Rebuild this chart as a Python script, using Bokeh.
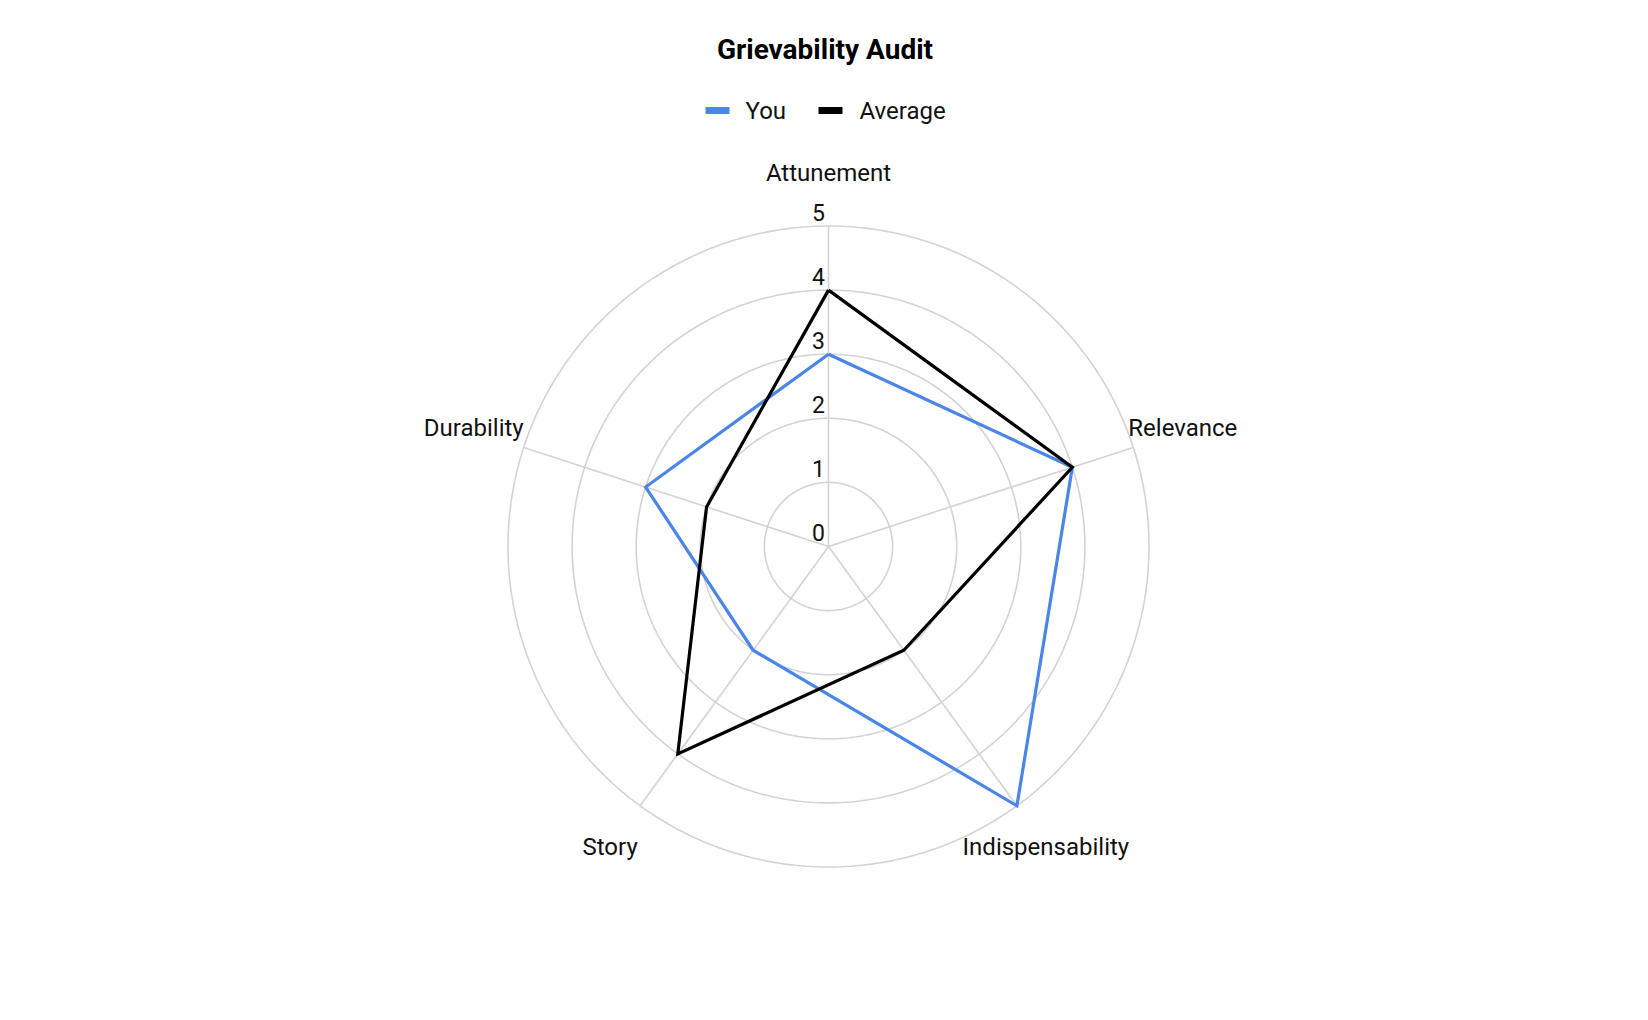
import math
from bokeh.plotting import figure
from bokeh.models import Range1d
from bokeh.core.properties import value
from bokeh.embed import file_html
from bokeh.resources import INLINE

# ---- data ----
categories = ["Attunement", "Relevance", "Indispensability", "Story", "Durability"]
you = [3, 4, 5, 2, 3]
average = [4, 4, 2, 4, 2]
ticks = [0, 1, 2, 3, 4, 5]
series_names = ["You", "Average"]
series_colors = ["#4a86e8", "#000000"]
title_text = "Grievability Audit"

# ---- layout (pixels) ----
W, H = 1648, 1020
cx, cy = 828.0, 546.0
U = 64.1  # pixels per score unit
RMAX = 5

def P(x, y):
    return ((x - cx) / U, (cy - y) / U)

n = len(categories)
angles = [math.pi / 2 - 2 * math.pi * i / n for i in range(n)]

def polar(r, a):
    return r * math.cos(a), r * math.sin(a)

p = figure(width=W, height=H, output_backend="svg", toolbar_location=None,
           x_range=Range1d(-cx / U, (W - cx) / U),
           y_range=Range1d(-(H - cy) / U, cy / U),
           min_border=0, outline_line_color=None)
p.axis.visible = False
p.grid.visible = False
p.background_fill_color = "white"
p.border_fill_color = "white"

grid_color = "#d3d3d3"
# rings
ring_xs, ring_ys = [], []
for r in ticks[1:]:
    pts = [polar(r, 2 * math.pi * k / 360) for k in range(361)]
    ring_xs.append([q[0] for q in pts])
    ring_ys.append([q[1] for q in pts])
p.multi_line(ring_xs, ring_ys, line_color=grid_color, line_width=1.6)

# spokes
sp_xs, sp_ys = [], []
for a in angles:
    ex, ey = polar(RMAX, a)
    sp_xs.append([0, ex])
    sp_ys.append([0, ey])
p.multi_line(sp_xs, sp_ys, line_color=grid_color, line_width=1.6)

# tick labels
p.text(x=[0] * len(ticks), y=ticks, text=[str(t) for t in ticks],
       x_offset=-10, y_offset=-14, text_align="center", text_baseline="middle",
       text_font=value("Roboto"), text_font_size="23px", text_color="#111111")

# series
for vals, col in zip([you, average], series_colors):
    pts = [polar(v, a) for v, a in zip(vals, angles)]
    xs = [q[0] for q in pts] + [pts[0][0]]
    ys = [q[1] for q in pts] + [pts[0][1]]
    p.line(xs, ys, line_color=col, line_width=3.2, line_join="miter")

# category labels
offs = [(0, -53, "center"), (-5, -19, "left"), (29, 41, "center"),
        (-30, 41, "center"), (0, -19, "right")]
for cat, a, (ox, oy, al) in zip(categories, angles, offs):
    ex, ey = polar(RMAX, a)
    p.text(x=[ex], y=[ey], text=[cat], x_offset=ox, y_offset=oy,
           text_align=al, text_baseline="middle",
           text_font=value("Roboto"), text_font_size="24px", text_color="#111111")

# title
tx, ty = P(824.5, 49)
p.text(x=[tx], y=[ty], text=[title_text], text_align="center", text_baseline="middle",
       text_font=value("Roboto"), text_font_style="bold", text_font_size="28px",
       text_color="#000000")

# legend
leg_sw = [717, 830]
leg_tx = [745, 859]
for name, col, sx, lx in zip(series_names, series_colors, leg_sw, leg_tx):
    rx, ry = P(sx, 110)
    p.rect(x=[rx], y=[ry], width=24, height=7, width_units="screen",
           height_units="screen", fill_color=col, line_color=None)
    lxx, lyy = P(lx, 110)
    p.text(x=[lxx], y=[lyy], text=[name], text_align="left", text_baseline="middle",
           text_font=value("Roboto"), text_font_size="24px", text_color="#111111")

open("out.html", "w").write(file_html(p, INLINE))
